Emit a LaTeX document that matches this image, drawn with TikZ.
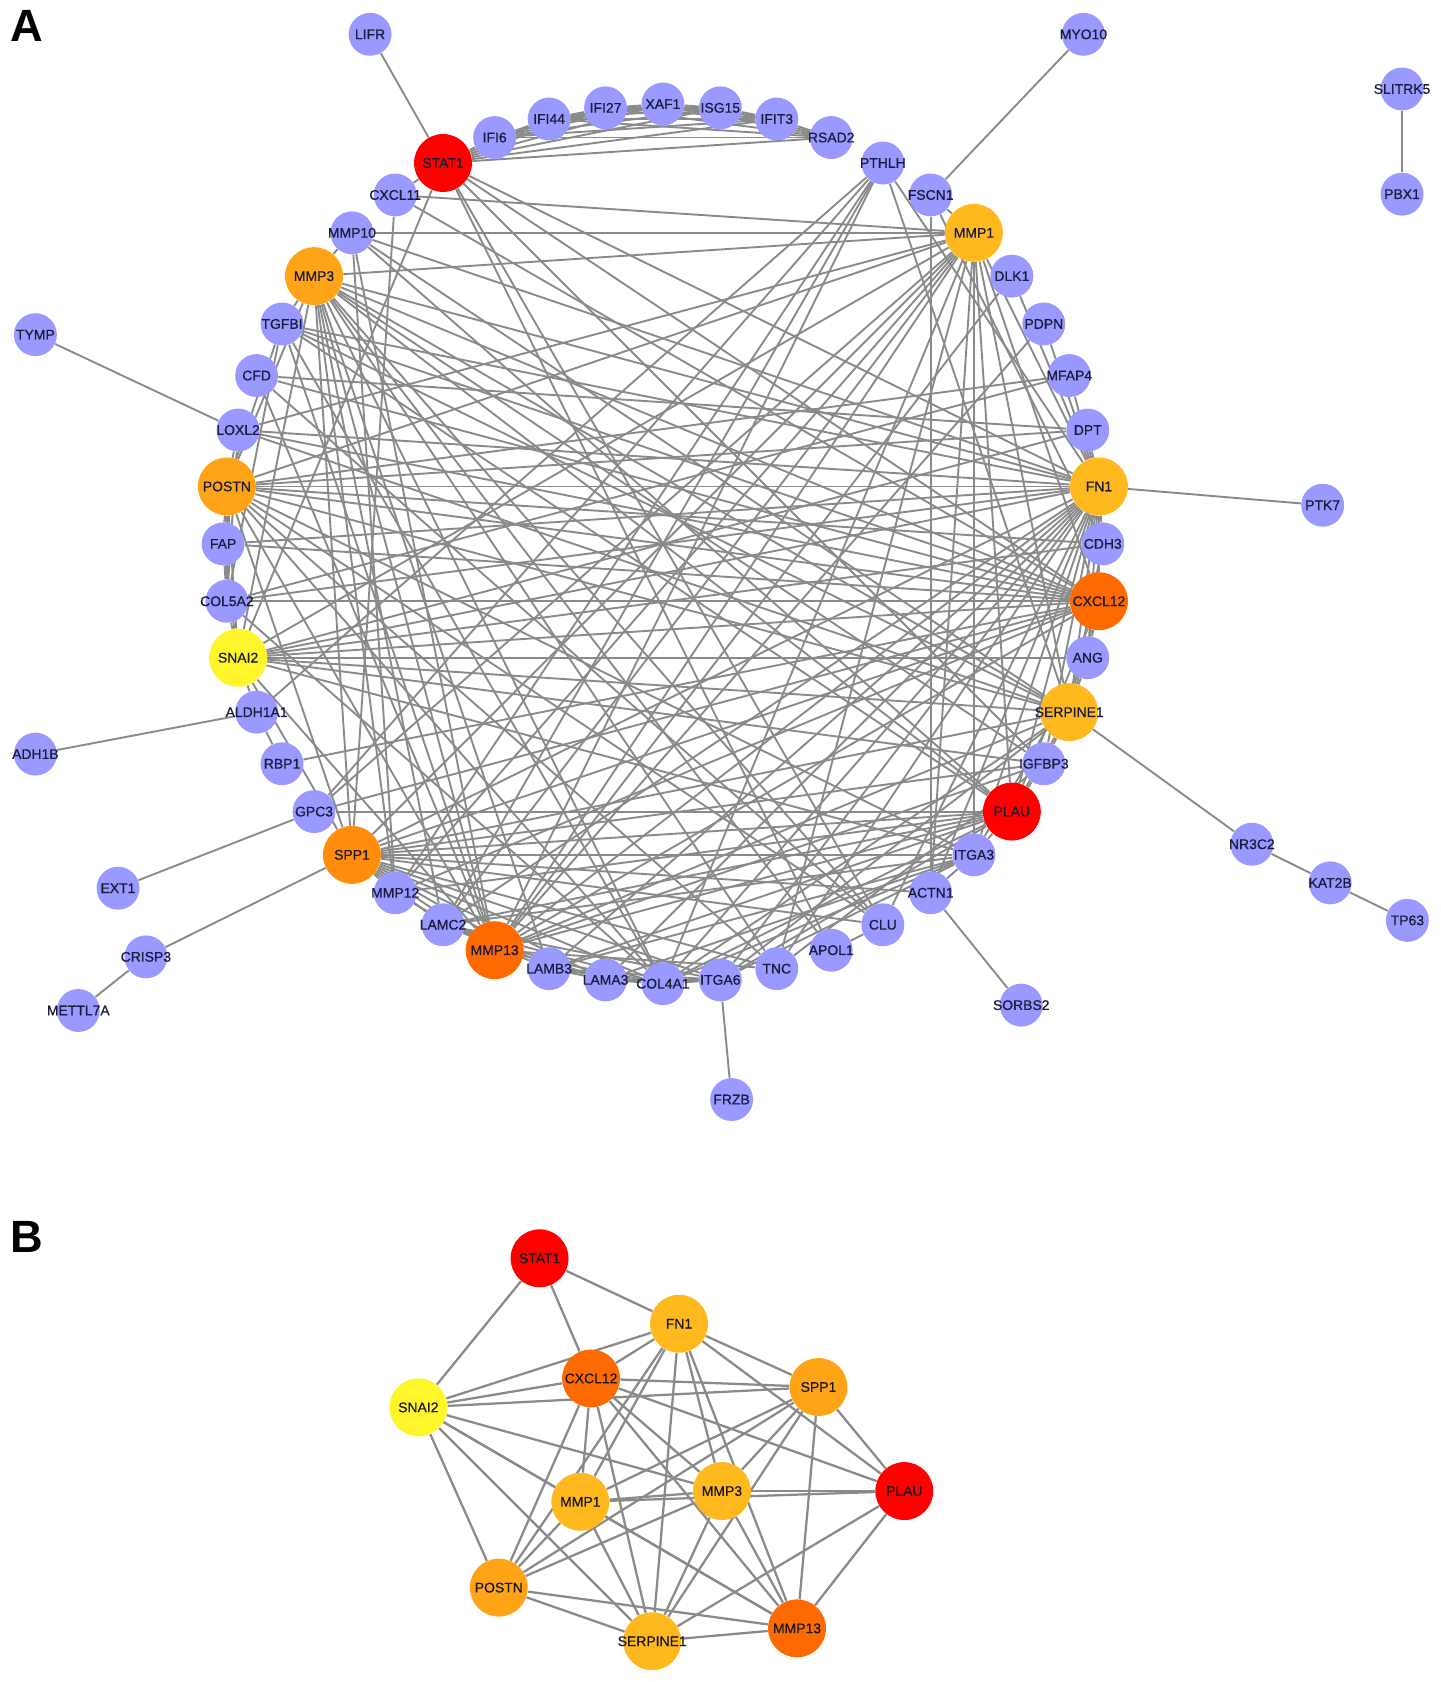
\documentclass[tikz,border=0pt]{standalone}
\usepackage{fontspec}
\setmainfont{Liberation Sans}
\newfontfamily\labfont[FakeBold=0.6]{Liberation Sans}
\pgfdeclarelayer{bg}
\pgfsetlayers{bg,main}
\definecolor{gpurple}{HTML}{9999FF}
\definecolor{gred}{HTML}{FF0000}
\definecolor{gorng}{HTML}{FF6A00}
\definecolor{gspp}{HTML}{FF8C0A}
\definecolor{gpos}{HTML}{FFA416}
\definecolor{glite}{HTML}{FFB81E}
\definecolor{gyel}{HTML}{FFF52A}
\definecolor{edgegray}{HTML}{8A8A8A}
\definecolor{labtxt}{HTML}{1A1A3A}
\begin{document}
\begin{tikzpicture}[x=0.02cm,y=-0.02cm,
  lab/.style={font=\labfont\fontsize{7.4}{8}\selectfont,text=labtxt,inner sep=0pt},
  labk/.style={font=\labfont\fontsize{7.4}{8}\selectfont,text=black!90,inner sep=0pt},
  gene/.style={circle,fill=gpurple,minimum size=0.8cm,inner sep=0pt},
  hubR/.style={gene,fill=gred,minimum size=1.08cm},
  hubO/.style={gene,fill=gorng,minimum size=1.08cm},
  hubS/.style={gene,fill=gspp,minimum size=1.08cm},
  hubP/.style={gene,fill=gpos,minimum size=1.08cm},
  hubL/.style={gene,fill=glite,minimum size=1.08cm},
  hubY/.style={gene,fill=gyel,minimum size=1.08cm},
  edge/.style={draw=edgegray,line width=1pt},
  bedge/.style={draw=edgegray,line width=1.2pt},
  panel/.style={font=\bfseries\fontsize{24}{24}\selectfont}]
\useasboundingbox (0,0) rectangle (1343,1568);

\node[panel] (labA) at (25,24) {A};
\node[panel] (labB) at (25,1153) {B};

% ---------- panel A: circle nodes ----------
\foreach \n/\i/\s in {XAF1/0/gene,ISG15/1/gene,IFIT3/2/gene,RSAD2/3/gene,PTHLH/4/gene,
  FSCN1/5/gene,MMP1/6/hubL,DLK1/7/gene,PDPN/8/gene,MFAP4/9/gene,DPT/10/gene,FN1/11/hubL,
  CDH3/12/gene,CXCL12/13/hubO,ANG/14/gene,SERPINE1/15/hubL,IGFBP3/16/gene,PLAU/17/hubR,
  ITGA3/18/gene,ACTN1/19/gene,CLU/20/gene,APOL1/21/gene,TNC/22/gene,ITGA6/23/gene,
  COL4A1/24/gene,LAMA3/25/gene,LAMB3/26/gene,MMP13/27/hubO,LAMC2/28/gene,MMP12/29/gene,
  SPP1/30/hubS,GPC3/31/gene,RBP1/32/gene,ALDH1A1/33/gene,SNAI2/34/hubY,COL5A2/35/gene,
  FAP/36/gene,POSTN/37/hubP,LOXL2/38/gene,CFD/39/gene,TGFBI/40/gene,MMP3/41/hubP,
  MMP10/42/gene,CXCL11/43/gene,STAT1/44/hubR,IFI6/45/gene,IFI44/46/gene,IFI27/47/gene}
  \node[\s,label={[lab]center:\n}] (\n) at ({618+410*cos(90-7.5*\i)},{507-410*sin(90-7.5*\i)}) {};

% ---------- panel A: outer nodes ----------
\foreach \n/\x/\y in {LIFR/345/32,MYO10/1010/32,SLITRK5/1307/83,PBX1/1307/181,TYMP/33/312,
  PTK7/1233/471,ADH1B/33/703,NR3C2/1167/787,EXT1/110/828,KAT2B/1240/823,TP63/1312/858,
  CRISP3/136/892,SORBS2/952/937,METTL7A/73/942,FRZB/682/1025}
  \node[gene,label={[lab]center:\n}] (\n) at (\x,\y) {};

% ---------- panel B nodes ----------
\foreach \n/\x/\y/\s in {STAT1/503/1173/hubR,FN1/633/1234/hubL,CXCL12/551/1285/hubO,
  SPP1/763/1293/hubP,SNAI2/390/1312/hubY,PLAU/843/1390/hubR,MMP1/541/1400/hubL,
  MMP3/673/1390/hubL,POSTN/465/1480/hubP,SERPINE1/608/1530/hubL,MMP13/743/1518/hubO}
  \node[\s,label={[labk]center:\n}] (b\n) at (\x,\y) {};

\begin{pgfonlayer}{bg}
% interferon clique
\foreach \a/\b in {STAT1/IFI6,STAT1/IFI44,STAT1/IFI27,STAT1/XAF1,STAT1/ISG15,STAT1/IFIT3,STAT1/RSAD2,
  IFI6/IFI44,IFI6/IFI27,IFI6/XAF1,IFI6/ISG15,IFI6/IFIT3,IFI6/RSAD2,
  IFI44/IFI27,IFI44/XAF1,IFI44/ISG15,IFI44/IFIT3,IFI44/RSAD2,
  IFI27/XAF1,IFI27/ISG15,IFI27/IFIT3,IFI27/RSAD2,
  XAF1/ISG15,XAF1/IFIT3,XAF1/RSAD2,ISG15/IFIT3,ISG15/RSAD2,IFIT3/RSAD2,
  STAT1/CXCL11,STAT1/APOL1,STAT1/SNAI2,STAT1/CXCL12,STAT1/IGFBP3,STAT1/CLU}
  \draw[edge] (\a) -- (\b);
% outer edges
\foreach \a/\b in {LIFR/STAT1,MYO10/FSCN1,SLITRK5/PBX1,TYMP/LOXL2,ADH1B/ALDH1A1,EXT1/GPC3,
  CRISP3/SPP1,CRISP3/METTL7A,PTK7/FN1,NR3C2/SERPINE1,NR3C2/KAT2B,KAT2B/TP63,SORBS2/ACTN1,FRZB/ITGA6}
  \draw[edge] (\a) -- (\b);
% hubs
\foreach \b in {MMP1,DLK1,PDPN,MFAP4,DPT,CDH3,CXCL12,ANG,SERPINE1,IGFBP3,PLAU,ITGA3,ACTN1,CLU,TNC,
  ITGA6,COL4A1,LAMA3,LAMB3,LAMC2,MMP13,SPP1,SNAI2,COL5A2,FAP,POSTN,LOXL2,TGFBI,MMP3,STAT1,PTHLH,MMP10}
  \draw[edge] (FN1) -- (\b);
\foreach \b in {PLAU,CXCL12,MMP1,MMP3,POSTN,SPP1,SNAI2,MMP13,IGFBP3,TGFBI,PTHLH,ANG,COL4A1,MMP10,
  LOXL2,CDH3,ITGA6}
  \draw[edge] (SERPINE1) -- (\b);
\foreach \b in {MMP1,MMP3,POSTN,SPP1,SNAI2,MMP13,PLAU,CXCL11,FAP,LOXL2,CFD,TGFBI,GPC3,MMP12,ANG,
  COL5A2,RBP1}
  \draw[edge] (CXCL12) -- (\b);
\foreach \b in {MMP1,MMP3,POSTN,SNAI2,MMP13,PLAU,ITGA3,ITGA6,COL4A1,LAMA3,LAMB3,LAMC2,MMP12,IGFBP3,
  CLU,TNC,ACTN1}
  \draw[edge] (SPP1) -- (\b);
\foreach \b in {MMP1,POSTN,SNAI2,MMP13,PLAU,MMP10,MMP12,TGFBI,LAMB3,COL4A1,LAMC2,TNC,APOL1,IGFBP3,CLU}
  \draw[edge] (MMP3) -- (\b);
\foreach \b in {POSTN,SNAI2,MMP13,PLAU,MMP10,MMP12,FSCN1,TNC,LAMC2,COL4A1,ITGA3,CXCL11,LOXL2,ACTN1,GPC3}
  \draw[edge] (MMP1) -- (\b);
\foreach \b in {MMP13,SNAI2,LOXL2,FAP,COL5A2,TGFBI,TNC,COL4A1,MFAP4,DPT,CDH3,ITGA3,CLU}
  \draw[edge] (POSTN) -- (\b);
\foreach \b in {MMP13,CDH3,COL5A2,ALDH1A1,DPT,ANG,IGFBP3,ITGA3,FAP}
  \draw[edge] (SNAI2) -- (\b);
\foreach \b in {PLAU,MMP10,MMP12,TNC,COL4A1,IGFBP3,CFD,PTHLH,PDPN,TGFBI}
  \draw[edge] (MMP13) -- (\b);
\foreach \b in {ITGA3,ITGA6,LAMB3,COL4A1,GPC3,MMP12,IGFBP3,TGFBI,MMP10,LAMC2}
  \draw[edge] (PLAU) -- (\b);
% other edges
\foreach \a/\b in {PTHLH/LAMC2,PTHLH/ALDH1A1,PTHLH/GPC3,PTHLH/MMP12,FSCN1/ACTN1,FSCN1/CDH3,
  COL4A1/LAMA3,COL4A1/LAMB3,COL4A1/LAMC2,COL4A1/ITGA6,COL4A1/ITGA3,COL4A1/COL5A2,
  LAMA3/LAMB3,LAMB3/LAMC2,LAMA3/LAMC2,LAMA3/ITGA6,LAMB3/ITGA6,LAMC2/ITGA6,ITGA6/ITGA3,
  ITGA3/LAMA3,ITGA3/LAMC2,ITGA3/LAMB3,ITGA3/ACTN1,COL5A2/FAP,COL5A2/LOXL2,COL5A2/TGFBI,
  FAP/POSTN,CFD/CLU,CFD/DPT,ALDH1A1/RBP1,CLU/APOL1,MMP10/MMP12,TGFBI/COL4A1,DLK1/MMP13,
  MFAP4/COL5A2,ANG/ITGA3,IGFBP3/TNC,CXCL11/SPP1}
  \draw[edge] (\a) -- (\b);

% panel B edges
\foreach \a/\b in {STAT1/SNAI2,STAT1/CXCL12,STAT1/FN1,
  SNAI2/FN1,SNAI2/CXCL12,SNAI2/SPP1,SNAI2/MMP1,SNAI2/MMP3,SNAI2/POSTN,SNAI2/SERPINE1,SNAI2/MMP13,
  FN1/CXCL12,FN1/SPP1,FN1/PLAU,FN1/MMP1,FN1/MMP3,FN1/POSTN,FN1/SERPINE1,FN1/MMP13,
  CXCL12/SPP1,CXCL12/PLAU,CXCL12/MMP1,CXCL12/MMP3,CXCL12/POSTN,CXCL12/SERPINE1,CXCL12/MMP13,
  SPP1/MMP1,SPP1/MMP3,SPP1/PLAU,SPP1/POSTN,SPP1/SERPINE1,SPP1/MMP13,
  MMP1/MMP3,MMP1/PLAU,MMP1/POSTN,MMP1/SERPINE1,MMP1/MMP13,
  MMP3/PLAU,MMP3/POSTN,MMP3/SERPINE1,MMP3/MMP13,
  PLAU/MMP13,PLAU/SERPINE1,POSTN/SERPINE1,POSTN/MMP13,SERPINE1/MMP13}
  \draw[bedge] (b\a) -- (b\b);
\end{pgfonlayer}
\end{tikzpicture}
\end{document}
